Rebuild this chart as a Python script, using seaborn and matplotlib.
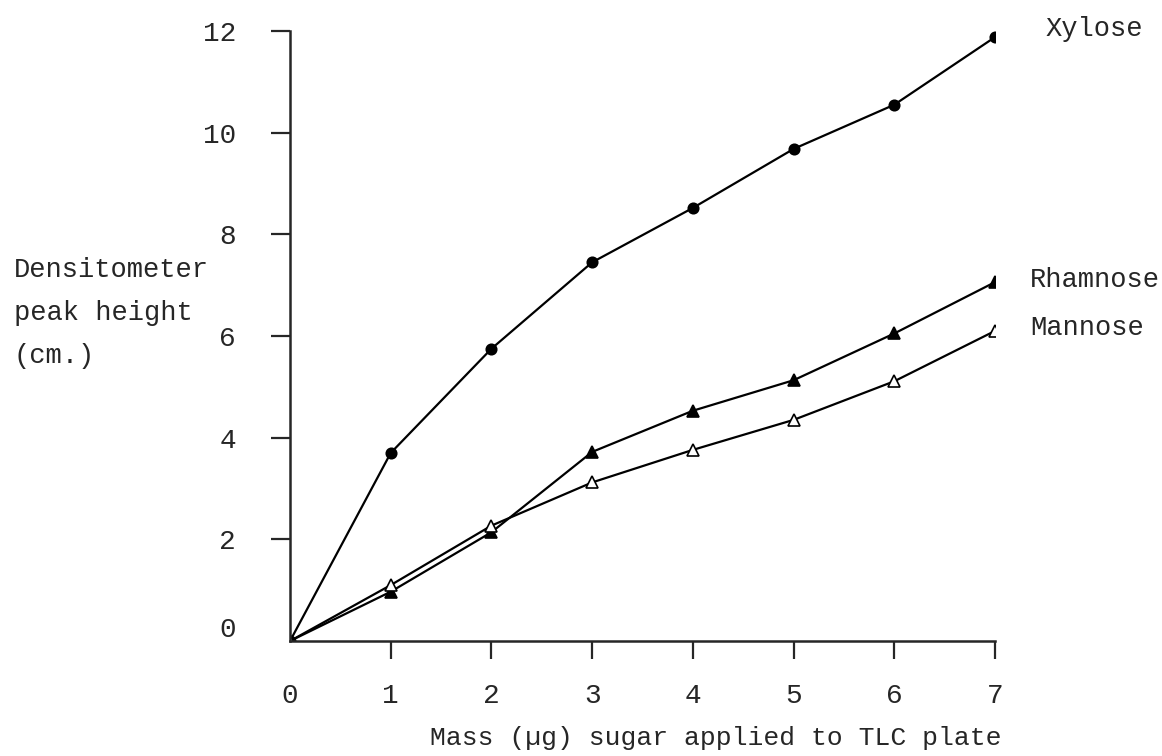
import matplotlib
matplotlib.use("Agg")
import matplotlib.pyplot as plt
import matplotlib.transforms as mtransforms
import seaborn as sns
import pandas as pd

mass = [0, 1, 2, 3, 4, 5, 6, 7]
xylose = [0, 3.7, 5.75, 7.45, 8.52, 9.68, 10.55, 11.88]
rhamnose = [0, 0.97, 2.14, 3.72, 4.53, 5.13, 6.05, 7.06]
mannose = [0, 1.1, 2.27, 3.12, 3.76, 4.35, 5.11, 6.1]
series_names = ["Xylose", "Rhamnose", "Mannose"]
x_ticks = [0, 1, 2, 3, 4, 5, 6, 7]
y_ticks = [0, 2, 4, 6, 8, 10, 12]

df = pd.DataFrame({
    "mass": mass * 3,
    "height": xylose + rhamnose + mannose,
    "sugar": sum([[n] * len(mass) for n in series_names], []),
})

sns.set_style("ticks")
plt.rcParams["font.family"] = ["Liberation Mono", "DejaVu Sans Mono"]

fig = plt.figure(figsize=(11.62, 7.56), dpi=100)
ax = fig.add_axes([0.2496, 0.1521, 0.6067, 0.8069])

styles = {
    "Xylose": dict(marker="o", mfc="black", ms=7.5),
    "Rhamnose": dict(marker="^", mfc="black", ms=8),
    "Mannose": dict(marker="^", mfc="white", ms=8),
}
for name in series_names:
    sub = df[df["sugar"] == name]
    st = styles[name]
    sns.lineplot(data=sub, x="mass", y="height", ax=ax, color="black",
                 linewidth=1.6, marker=st["marker"], markersize=st["ms"],
                 markerfacecolor=st["mfc"], markeredgecolor="black",
                 markeredgewidth=1.2, legend=False)

ax.set_xlim(0, 7)
ax.set_ylim(0, 12)
ax.set_xticks(x_ticks)
ax.set_yticks(y_ticks)
ax.set_xticklabels([str(t) for t in x_ticks], fontsize=20)
ax.set_yticklabels([str(t) for t in y_ticks], fontsize=20)
ax.tick_params(axis="x", direction="out", length=13, width=1.6, pad=17)
ax.tick_params(axis="y", direction="out", length=14, width=1.6, pad=25)
for s in ["top", "right"]:
    ax.spines[s].set_visible(False)
for s in ["left", "bottom"]:
    ax.spines[s].set_linewidth(1.8)
ax.set_xlabel("")
ax.set_ylabel("")

# no tick marks at the origin; y "0" label sits a bit higher
ax.xaxis.get_major_ticks()[0].tick1line.set_visible(False)
ax.yaxis.get_major_ticks()[0].tick1line.set_visible(False)
fig.canvas.draw()
lab0 = ax.get_yticklabels()[0]
lab0.set_transform(lab0.get_transform() +
                   mtransforms.ScaledTranslation(0, 0.14, fig.dpi_scale_trans))

# series labels at the line ends
ends = {"Xylose": xylose[-1], "Rhamnose": rhamnose[-1], "Mannose": mannose[-1]}
x_pos = {"Xylose": 7.5, "Rhamnose": 7.35, "Mannose": 7.35}
offsets = {"Xylose": 0.16, "Rhamnose": 0.04, "Mannose": 0.06}
for name in series_names:
    ax.text(x_pos[name], ends[name] + offsets[name], name, fontsize=19.5,
            ha="left", va="center", clip_on=False)

fig.text(0.012, 0.660, "Densitometer\npeak height\n(cm.)", fontsize=19.5,
         ha="left", va="top", linespacing=1.85)
fig.text(0.616, 0.0238, "Mass (µg) sugar applied to TLC plate", fontsize=19,
         ha="center", va="center")

fig.savefig("out.png", dpi=100)
